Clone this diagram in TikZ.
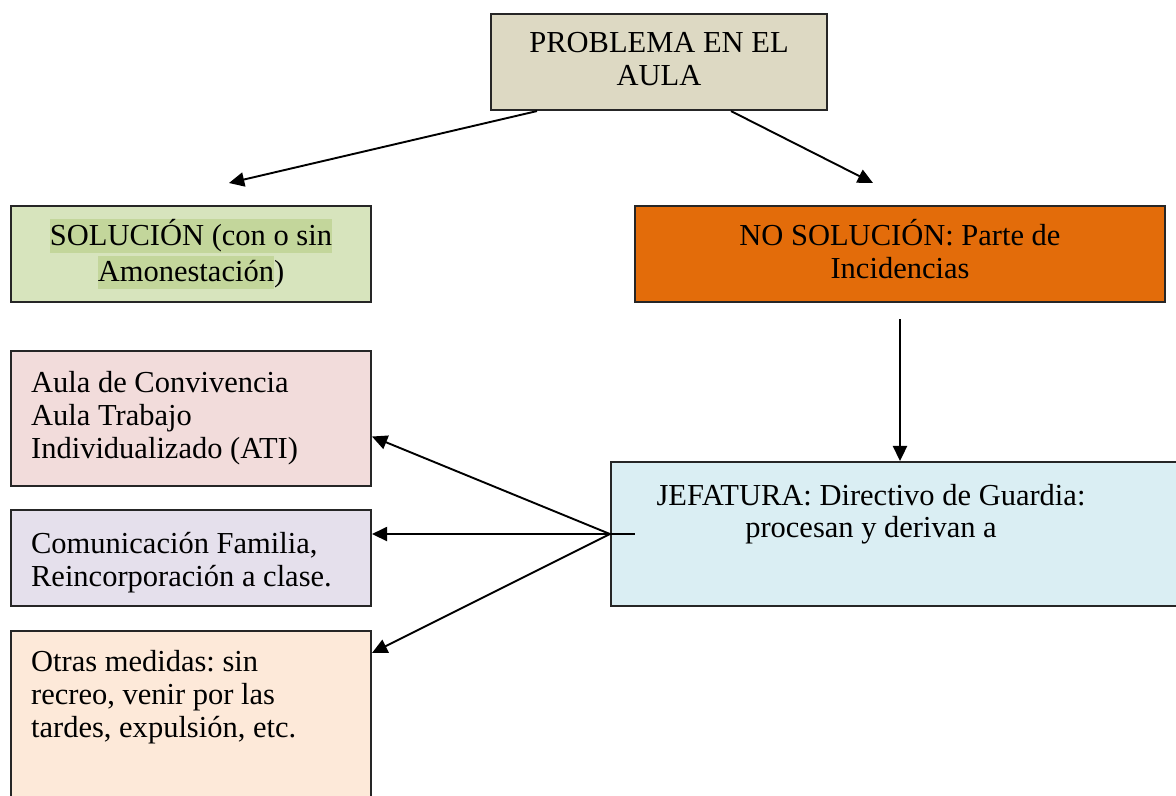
\documentclass[tikz,border=0pt]{standalone}
\usepackage{fontspec}
\setmainfont{Liberation Serif}
\usetikzlibrary{calc,arrows.meta}
\definecolor{probfill}{HTML}{DDD9C3}
\definecolor{solfill}{HTML}{D7E4BD}
\definecolor{solmark}{HTML}{C3D69B}
\definecolor{nosolfill}{HTML}{E36C0A}
\definecolor{aulafill}{HTML}{F2DCDB}
\definecolor{comfill}{HTML}{E5E0EC}
\definecolor{otrasfill}{HTML}{FDE9D9}
\definecolor{jeffill}{HTML}{DAEEF3}
\newcommand\marca[1]{{\setlength{\fboxsep}{0pt}\colorbox{solmark}{\rule[-2.8pt]{0pt}{13.2pt}#1}}}
\tikzset{caja/.style={draw=black!85, line width=0.8pt, inner xsep=7.9pt, inner ysep=0pt, font=\fontsize{12pt}{12.8pt}\selectfont\frenchspacing},
         cajaC/.style={caja, align=flush center},
         cajaL/.style={caja, align=flush left, text width=125.8pt},
         flecha/.style={black, line width=0.75pt, -{Triangle[length=6pt,width=5.6pt]}}}

\begin{document}
\begin{tikzpicture}[x=0.3934pt,y=-0.3934pt]
   \useasboundingbox (0,0) rectangle (1176,795);
   \node[cajaC, fill=probfill, text width=116.4pt, text height=15.3pt, text depth=22.5pt] (prob) at (659,62) {PROBLEMA EN EL\\AULA};
   \node[cajaC, fill=solfill, text width=125.8pt, text height=15.7pt, text depth=22.1pt] (sol) at (191,254) {\marca{SOLUCIÓN (con o sin}\\\marca{Amonestación})};
   \node[cajaC, fill=nosolfill, text width=192.7pt, text height=15.7pt, text depth=22.1pt] (nosol) at (900,254) {NO SOLUCIÓN: Parte de\\Incidencias};
   \node[cajaL, fill=aulafill, text height=16.5pt, text depth=36.6pt] (aula) at (191,418.5) {Aula de Convivencia\\Aula Trabajo\\Individualizado (ATI)};
   \node[cajaL, fill=comfill, text height=17.3pt, text depth=20.5pt] (com) at (191,558) {Comunicación Familia,\\Reincorporación a clase.};
   \node[cajaL, fill=otrasfill, text height=16.1pt, text depth=54.7pt] (otras) at (191,721) {Otras medidas: sin\\recreo, venir por las\\tardes, expulsión, etc.};
   \node[caja, fill=jeffill, align=flush left, text width=212pt, text height=16.9pt, text depth=39.7pt] (jef) at (900.5,534) {\parbox[t]{188.8pt}{\centering JEFATURA: Directivo de Guardia:\\procesan y derivan a}};
   \coordinate (solTip) at (229,183);
   \coordinate (nosolTip) at (873,183);
   \draw[flecha] ($(prob.south west)+(47,0)$) -- (solTip);
   \draw[flecha] ($(prob.south west)+(241,0)$) -- (nosolTip);
   \draw[flecha] ($(nosol.south)+(0,16)$) -- (nosol.south |- jef.north);
   \draw[black, line width=0.75pt] (jef.west) -- +(25,0);
   \draw[flecha] (jef.west) -- ($(aula.east)+(0,18)$);
   \draw[flecha] (jef.west) -- (jef.west -| com.east);
   \draw[flecha] (jef.west) -- ($(otras.north east)+(0,23)$);
\end{tikzpicture}
\end{document}
